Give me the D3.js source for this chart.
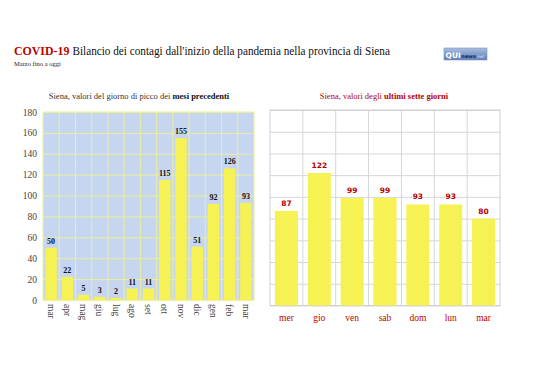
<!DOCTYPE html>
<html><head><meta charset="utf-8">
<script src="https://cdn.jsdelivr.net/npm/d3@7"></script>
<style>body{margin:0;background:#fff}svg{display:block}</style>
</head><body>
<script>
const monthCats = ["mar","apr","mag","giu","lug","ago","set","ott","nov","dic","gen","feb","mar"];
const monthVals = [50,22,5,3,2,11,11,115,155,51,92,126,93];
const dayCats = ["mer","gio","ven","sab","dom","lun","mar"];
const dayVals = [87,122,99,99,93,93,80];
const yTicks = [0,20,40,60,80,100,120,140,160,180];

const W=538,H=380;
const svg=d3.select("body").append("svg").attr("width",W).attr("height",H);
const serif="'Liberation Serif','DejaVu Serif',serif";
const RED="#b80000";

// Title (horizontally condensed via transform so its box matches its look)
const t1=svg.append("text").attr("x",0).attr("y",0).attr("font-family",serif).attr("font-size",13.5)
  .attr("fill","#c00000").attr("font-weight","bold").text("COVID-19");
const n1=t1.node().getComputedTextLength();
const sx=0.88;
t1.attr("transform",`translate(14,55) scale(${sx},1)`);
const x2=14+n1*sx+3;
const t2=svg.append("text").attr("x",0).attr("y",0).attr("font-family",serif).attr("font-size",13.5).attr("fill","#111")
  .text("Bilancio dei contagi dall'inizio della pandemia nella provincia di Siena");
const n2=t2.node().getComputedTextLength();
t2.attr("transform",`translate(${x2},55) scale(${(390-x2)/n2},1)`);
svg.append("text").attr("x",14).attr("y",66).attr("font-family",serif).attr("font-size",6.5).attr("fill","#222").text("Marzo fino a oggi");

// Logo
const defs=svg.append("defs");
const g=defs.append("linearGradient").attr("id","lg").attr("x1",0).attr("y1",0).attr("x2",0).attr("y2",1);
g.append("stop").attr("offset","0").attr("stop-color","#a9bde0");
g.append("stop").attr("offset","1").attr("stop-color","#5f7fb8");
svg.append("rect").attr("x",444).attr("y",48).attr("width",43).attr("height",12).attr("fill","url(#lg)").attr("stroke","#7f95c0").attr("stroke-width",0.6);
const lf="'DejaVu Sans',sans-serif";
const q=svg.append("text").attr("x",445.5).attr("y",57.5).attr("font-family",lf).attr("font-weight","bold").attr("font-size",7.5).attr("fill","#fff").text("QUI");
const qx=445.5+q.node().getComputedTextLength()+0.6;
const n=svg.append("text").attr("x",qx).attr("y",57.5).attr("font-family",lf).attr("font-weight","bold").attr("font-size",5).attr("fill","#1a2a55").text("news");
const nx=qx+n.node().getComputedTextLength()+0.6;
svg.append("text").attr("x",nx).attr("y",57.5).attr("font-family",lf).attr("font-size",4).attr("fill","#e0e8f6").text(".net");

// Left chart
const L={x0:43,x1:254,y0:300,y1:112};
const xL=d3.scaleBand().domain(d3.range(monthCats.length)).range([L.x0,L.x1]).paddingInner(0.3).paddingOuter(0.15);
const yL=d3.scaleLinear().domain([0,180]).range([L.y0,L.y1]);
svg.append("text").attr("x",139).attr("y",99).attr("text-anchor","middle").attr("font-family",serif).attr("font-size",8.5).attr("fill","#333")
  .call(s=>{s.append("tspan").text("Siena, valori del giorno di picco dei ");s.append("tspan").attr("font-weight","bold").attr("fill","#111").text("mesi precedenti");});
svg.append("rect").attr("x",L.x0).attr("y",L.y1).attr("width",L.x1-L.x0).attr("height",L.y0-L.y1).attr("fill","#c7d6f0");
const stepL=(L.x1-L.x0)/monthCats.length;
svg.append("g").selectAll("line").data(d3.range(1,monthCats.length)).join("line")
  .attr("x1",i=>L.x0+i*stepL).attr("x2",i=>L.x0+i*stepL).attr("y1",L.y1).attr("y2",L.y0).attr("stroke","#ecef9a").attr("stroke-width",1);
svg.append("g").attr("transform",`translate(${L.x0},0)`).call(d3.axisLeft(yL).tickValues(yTicks).tickSize(-(L.x1-L.x0)).tickPadding(6))
  .call(a=>{a.select(".domain").remove();a.selectAll(".tick line").attr("stroke","#ecef9a");
    a.selectAll(".tick text").attr("font-family",serif).attr("font-size",9.5).attr("fill","#444");});
svg.append("rect").attr("x",L.x0).attr("y",L.y1).attr("width",L.x1-L.x0).attr("height",L.y0-L.y1).attr("fill","none").attr("stroke","#ecef9a");
svg.append("g").selectAll("rect").data(monthVals).join("rect")
  .attr("x",(d,i)=>xL(i)).attr("width",xL.bandwidth()).attr("y",d=>yL(d)).attr("height",d=>yL(0)-yL(d)).attr("fill","#f6f253");
svg.append("g").selectAll("text").data(monthVals).join("text")
  .attr("x",(d,i)=>xL(i)+xL.bandwidth()/2).attr("y",d=>yL(d)-4).attr("text-anchor","middle")
  .attr("font-family",serif).attr("font-weight","bold").attr("font-size",8).attr("fill","#111").text(d=>d);
svg.append("g").attr("transform",`translate(0,${L.y0})`).call(d3.axisBottom(xL).tickFormat(i=>monthCats[i]).tickSize(0).tickPadding(0))
  .call(a=>{a.select(".domain").remove();
    a.selectAll(".tick text").attr("font-family",serif).attr("font-size",9.5).attr("fill","#444")
     .attr("transform","rotate(90)").attr("text-anchor","start").attr("dy","0.35em").attr("x",4).attr("y",0);});

// Right chart
const R={x0:270,x1:500,y0:305.5,y1:110};
const xR=d3.scaleBand().domain(d3.range(dayCats.length)).range([R.x0,R.x1]).paddingInner(0.3).paddingOuter(0.15);
const yR=d3.scaleLinear().domain([0,180]).range([R.y0,R.y1]);
svg.append("text").attr("x",384).attr("y",99).attr("text-anchor","middle").attr("font-family",serif).attr("font-size",8.5).attr("fill",RED)
  .call(s=>{s.append("tspan").text("Siena, valori degli ");s.append("tspan").attr("font-weight","bold").text("ultimi sette giorni");});
const stepR=(R.x1-R.x0)/dayCats.length;
svg.append("g").selectAll("line").data(d3.range(1,dayCats.length)).join("line")
  .attr("x1",i=>R.x0+i*stepR).attr("x2",i=>R.x0+i*stepR).attr("y1",R.y1).attr("y2",R.y0).attr("stroke","#d6d6d6");
svg.append("g").attr("transform",`translate(${R.x0},0)`).call(d3.axisLeft(yR).tickValues(yTicks).tickSize(-(R.x1-R.x0)).tickFormat(""))
  .call(a=>{a.select(".domain").remove();a.selectAll(".tick line").attr("stroke","#d6d6d6");});
svg.append("rect").attr("x",R.x0).attr("y",R.y1).attr("width",R.x1-R.x0).attr("height",R.y0-R.y1).attr("fill","none").attr("stroke","#d0d0d0");
svg.append("g").selectAll("rect").data(dayVals).join("rect")
  .attr("x",(d,i)=>xR(i)).attr("width",xR.bandwidth()).attr("y",d=>yR(d)).attr("height",d=>yR(0)-yR(d)).attr("fill","#f6f253");
svg.append("g").selectAll("text").data(dayVals).join("text")
  .attr("x",(d,i)=>xR(i)+xR.bandwidth()/2).attr("y",d=>yR(d)-5).attr("text-anchor","middle")
  .attr("font-family","'DejaVu Sans',sans-serif").attr("font-weight","bold").attr("font-size",7.5).attr("fill",RED).text(d=>d);
svg.append("g").attr("transform",`translate(0,${R.y0})`).call(d3.axisBottom(xR).tickFormat(i=>dayCats[i]).tickSize(0).tickPadding(9))
  .call(a=>{a.select(".domain").remove();
    a.selectAll(".tick text").attr("font-family",serif).attr("font-size",9.5).attr("fill",RED);});
</script>
</body></html>
